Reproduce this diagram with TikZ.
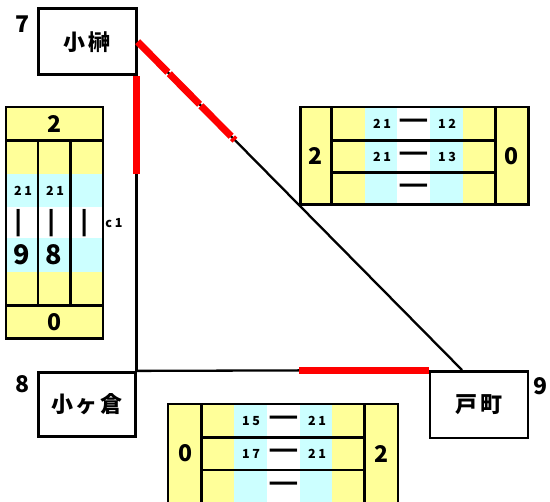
\documentclass[tikz,border=0pt]{standalone}
\usepackage{fontspec}
\setmainfont{Noto Sans CJK JP}
\newfontfamily\stnfont{Noto Sans CJK JP}[LetterSpace=12]
\newfontfamily\smfont{Noto Sans CJK JP}[LetterSpace=22]
\usetikzlibrary{calc}
\definecolor{yel}{HTML}{FFFF99}
\definecolor{cya}{HTML}{CCFFFF}
\definecolor{rd}{HTML}{FF0000}
\newcommand{\longdash}{\scalebox{2.1}[1.7]{—}}
\begin{document}
\begin{tikzpicture}[x=1pt,y=-1pt,
  stn/.style={draw,line width=2.7pt,inner sep=0pt,minimum width=98pt,minimum height=66pt,
    font=\stnfont\bfseries\fontsize{22}{22}\selectfont},
  num/.style={inner sep=0pt,font=\bfseries\fontsize{23}{23}\selectfont},
  bignum/.style={inner sep=0pt,font=\bfseries\fontsize{27}{27}\selectfont},
  sm/.style={inner sep=0pt,font=\smfont\bfseries\fontsize{12.5}{12.5}\selectfont},
  dsh/.style={inner sep=0pt,font=\bfseries\fontsize{16}{16}\selectfont},
  gridl/.style={line width=2.5pt},
  outerl/.style={line width=2.7pt},
  redl/.style={rd,line width=7pt},
  link/.style={line width=2.3pt}]
\useasboundingbox (0,0) rectangle (550,502);
\clip (0,0) rectangle (550,502);

% stations
\node[stn] (kos) at (87.3,41.7) {小榊};
\node[stn,minimum width=97.4pt,minimum height=64.5pt] (kog) at (87,404.5) {小ヶ倉};
\node[stn,minimum height=66.7pt] (tom) at (479,404.7) {戸町};
\node[num] (n7) at (22.5,24) {7};
\node[num] (n8) at (22.5,384) {8};
\node[num] (n9) at (541,386) {9};

% connectors
\coordinate (kosS) at ([xshift=-1.3pt]kos.south east);
\coordinate (kogNE) at ([xshift=-0.7pt]kog.north east);
\coordinate (dEnd) at ([xshift=-17pt]tom.north);
\draw[link] (kosS) -- (kogNE);
\draw[link] (kogNE) -- (tom.north west);
\draw[link] (kos.east) -- (dEnd);

% red highlights
\coordinate (rvEnd) at ($(kosS)+(0.6,98)$);
\coordinate (rvStart) at ($(kosS)+(0.6,0)$);
\draw[redl] (rvStart) -- (rvEnd);
\coordinate (rhEnd) at ($(tom.north west)+(-130,0.3)$);
\coordinate (rhStart) at ($(tom.north west)+(0,0.3)$);
\draw[redl] (rhStart) -- (rhEnd);
\coordinate (rdEnd) at ($(kos.east)!0.3!(dEnd)$);
\draw[redl,dash pattern=on 43pt off 2pt] (kos.east) -- (rdEnd);

% left table
\fill[yel] (6,107) rectangle (103,338.5);
\fill[cya] (6,174) rectangle (103,207.3);
\fill[white] (6,207.3) rectangle (103,238.3);
\fill[cya] (6,238.3) rectangle (103,271.7);
\draw[gridl] (6,140.5) -- (103,140.5) (6,305.3) -- (103,305.3)
  (38,140.5) -- (38,305.3) (70.3,140.5) -- (70.3,305.3);
\draw[outerl] (6,107) rectangle (103,338.5);
\node[num] (l2) at (55,123.8) {2};
\node[num] (l0) at (55,322) {0};
\node[sm] (la1) at (23,190.7) {21};
\node[sm] (la2) at (55,190.7) {21};
\node[dsh,rotate=90] (ld1) at (22,222.8) {\longdash};
\node[dsh,rotate=90] (ld2) at (54.5,222.8) {\longdash};
\node[dsh,rotate=90] (ld3) at (87.5,222.8) {\longdash};
\node[bignum] (lb1) at (22,255) {9};
\node[bignum] (lb2) at (54,255) {8};
\node[sm] (lc) at (114,223) {c1};

% right table
\fill[yel] (300.3,107) rectangle (528.7,204.7);
\fill[cya] (365,107) rectangle (397.3,204.7);
\fill[white] (397.3,107) rectangle (430,204.7);
\fill[cya] (430,107) rectangle (462.7,204.7);
\draw[gridl] (331.3,107) -- (331.3,204.7) (495.3,107) -- (495.3,204.7)
  (331.3,140.7) -- (495.3,140.7) (331.3,172.3) -- (495.3,172.3);
\draw[outerl] (300.3,107) rectangle (528.7,204.7);
\node[num] (r2) at (316,155.8) {2};
\node[num] (r0) at (512,155.8) {0};
\node[sm] (ra1) at (382,124) {21};
\node[dsh] (rd1) at (414,124) {\longdash};
\node[sm] (rb1) at (447,124) {12};
\node[sm] (ra2) at (382,156.5) {21};
\node[dsh] (rd2) at (414,156.5) {\longdash};
\node[sm] (rb2) at (447,156.5) {13};
\node[dsh] (rd3) at (414,188.5) {\longdash};

% bottom table
\fill[yel] (168,404) rectangle (398,504);
\fill[cya] (234,404) rectangle (266.7,504);
\fill[white] (266.7,404) rectangle (300,504);
\fill[cya] (300,404) rectangle (332.3,504);
\draw[gridl] (201.3,404) -- (201.3,504) (364.7,404) -- (364.7,504)
  (201.3,437.3) -- (364.7,437.3) (201.3,470) -- (364.7,470);
\draw[outerl] (168,404) rectangle (398,503.5);
\node[num] (b0) at (185.5,453.5) {0};
\node[num] (b2) at (382,453.5) {2};
\node[sm] (ba1) at (251,420.7) {15};
\node[dsh] (bd1) at (284,420.7) {\longdash};
\node[sm] (bb1) at (317,420.7) {21};
\node[sm] (ba2) at (251,453.7) {17};
\node[dsh] (bd2) at (284,453.7) {\longdash};
\node[sm] (bb2) at (317,453.7) {21};
\node[dsh] (bd3) at (284,486.5) {\longdash};
\end{tikzpicture}
\end{document}
